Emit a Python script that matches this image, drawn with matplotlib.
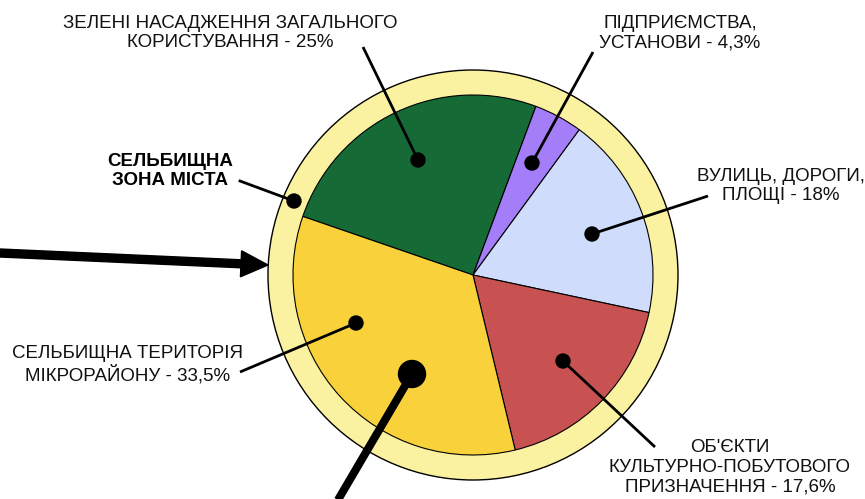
import matplotlib
matplotlib.use("Agg")
import matplotlib.pyplot as plt
from matplotlib.patches import Circle, FancyArrow

plt.rcParams['font.family'] = ['Liberation Sans', 'DejaVu Sans']

# ---- data ----
categories = ["ЗЕЛЕНІ НАСАДЖЕННЯ ЗАГАЛЬНОГО\nКОРИСТУВАННЯ - 25%",
              "ПІДПРИЄМСТВА,\nУСТАНОВИ - 4,3%",
              "ВУЛИЦЬ, ДОРОГИ,\nПЛОЩІ - 18%",
              "ОБ'ЄКТИ\nКУЛЬТУРНО-ПОБУТОВОГО\nПРИЗНАЧЕННЯ - 17,6%",
              "СЕЛЬБИЩНА ТЕРИТОРІЯ\nМІКРОРАЙОНУ - 33,5%"]
values = [25, 4.3, 18, 17.6, 33.5]
colors = ["#166A36", "#A47EF8", "#D0DCFC", "#C85252", "#F9D23B"]
zone_label = "СЕЛЬБИЩНА\nЗОНА МІСТА"

# ---- layout (pixel coordinates, y downward) ----
W, H = 865, 499
def P(x, y):
    return (x, H - y)

cx, cy = 473, 275
R_ring, R_pie = 205, 180

dots = [(418, 160), (532, 163), (592, 234), (563, 361), (356, 323)]
line_ends = [(363, 47), (593, 52), (708, 196), (655, 447), (240, 372)]
text_pos = [(230, 33, 'center'), (680, 33, 'center'), (781, 186, 'center'),
            (730, 467, 'center'), (128, 365, 'center')]

fig = plt.figure(figsize=(W / 100, H / 100), dpi=100)
ax = fig.add_axes([0, 0, 1, 1])
ax.set_xlim(0, W)
ax.set_ylim(0, H)
ax.axis('off')

ring = Circle(P(cx, cy), R_ring, facecolor="#FAF2A0", edgecolor="black", lw=1.0, zorder=1)
ax.add_patch(ring)

ax.pie(values, colors=colors, center=P(cx, cy), radius=R_pie, startangle=161,
       counterclock=False, wedgeprops=dict(edgecolor="black", linewidth=0.8, zorder=2),
       frame=True)
ax.set_xlim(0, W)
ax.set_ylim(0, H)
ax.set_aspect('equal')
ax.axis('off')

fs = 13.5
for lab, d, e, (tx, ty, ha) in zip(categories, dots, line_ends, text_pos):
    ax.plot([d[0], e[0]], [H - d[1], H - e[1]], color="black", lw=2.0, zorder=4,
            solid_capstyle='butt')
    ax.add_patch(Circle(P(*d), 7, color="black", zorder=5))
    ax.text(tx, H - ty, lab, ha=ha, va='center', fontsize=fs, linespacing=1.2,
            color="#111111", zorder=6)

# zone label
ax.plot([240, 294], [H - 181, H - 201], color="black", lw=2.0, zorder=4)
ax.add_patch(Circle(P(294, 201), 7, color="black", zorder=5))
ax.text(170, H - 171, zone_label, ha='center', va='center', fontsize=fs,
        fontweight='bold', linespacing=1.2, zorder=6)

# big arrow from left
ax.add_patch(FancyArrow(0, H - 253, 268, -12, width=8, head_width=26, head_length=27,
                        length_includes_head=True, color="black", zorder=6))

# thick pointer from bottom
ax.plot([335, 412], [H - 505, H - 374], color="black", lw=5.8, zorder=6,
        solid_capstyle='butt')
ax.add_patch(Circle(P(412, 374), 13.5, color="black", zorder=7))

fig.savefig("out.png", dpi=100)
